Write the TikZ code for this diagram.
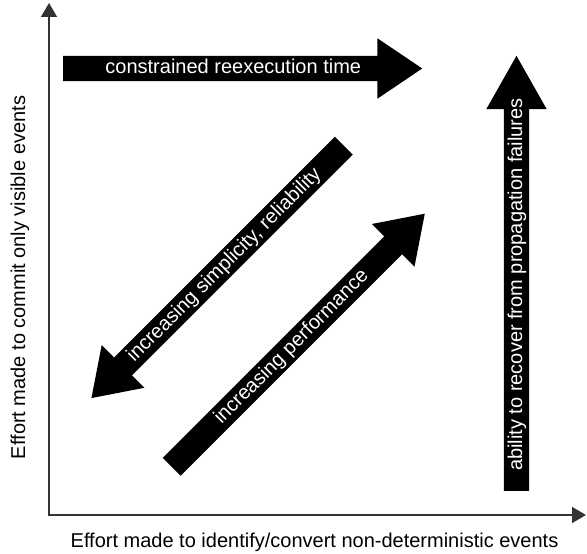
\documentclass[tikz,border=0pt]{standalone}
\usepackage{fontspec}
\setmainfont{Liberation Sans}
\usetikzlibrary{shapes.arrows,arrows.meta,positioning}

\begin{document}
\begin{tikzpicture}[x=1pt, y=1pt, font=\fontsize{20}{24}\selectfont,
   blk/.style={single arrow, fill=black, text=white, anchor=tail,
      text height=15pt, text depth=4pt, inner xsep=0pt, inner ysep=3pt,
      single arrow head extend=17.5pt, single arrow tip angle=68},
   lbl/.style={text height=15pt, text depth=4pt, inner sep=0pt},
   axis/.style={draw=black!80, line width=1.5pt,
      {Triangle[length=14pt,width=16pt]}-{Triangle[length=14pt,width=16pt]}}]
   \useasboundingbox (0,0) rectangle (587,554);
   % axes
   \coordinate (o) at (49,39);
   \coordinate (ytop) at (49,551);
   \coordinate (xend) at (586,39);
   \draw[axis] (ytop) -- (o) -- (xend);
   \node[lbl, rotate=90] (ylab) at (19.5,276.5) {Effort made to commit only visible events};
   \node[lbl] (xlab) at (314.5,11.5) {Effort made to identify/convert non-deterministic events};
   % block arrows
   \node[blk, minimum height=359pt] (rt) at (63,485.5) {constrained reexecution time};
   \node[blk, rotate=90, single arrow tip angle=59, minimum height=435pt] (rec) at (516.5,63) {ability to recover from propagation failures};
   \node[blk, rotate=45, shape border rotate=180, minimum height=357pt] (simp) at (344,408.5) {increasing simplicity, reliability};
   \node[blk, rotate=45, minimum height=358pt] (perf) at (171.5,87) {increasing performance};
\end{tikzpicture}
\end{document}
